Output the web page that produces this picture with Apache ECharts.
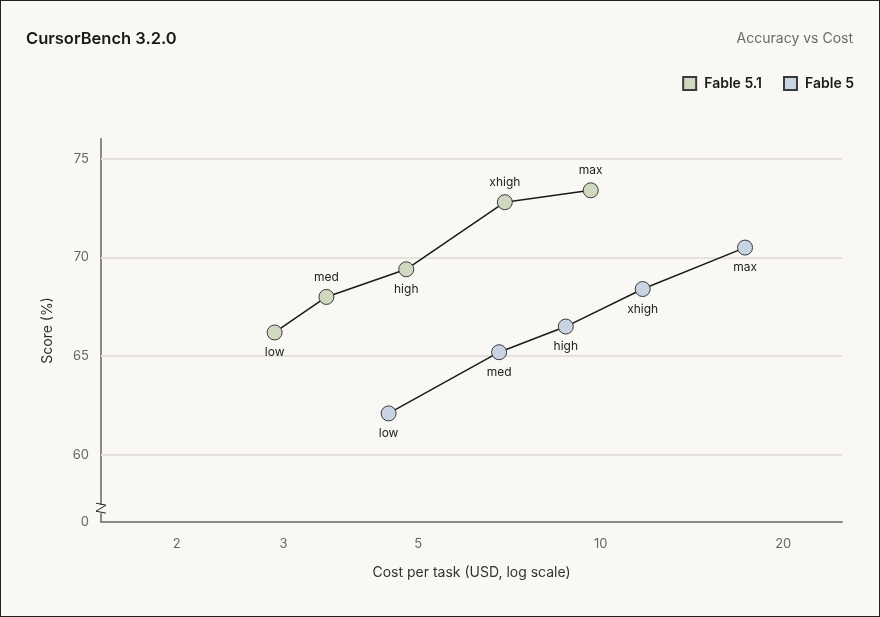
<!DOCTYPE html>
<html>
<head>
<meta charset="utf-8">
<script src="https://cdn.jsdelivr.net/npm/echarts@6/dist/echarts.min.js"></script>
<style>
html,body{margin:0;padding:0;background:#f9f8f4;}
#chart{width:880px;height:617px;box-sizing:border-box;border:1px solid #222;}
</style>
</head>
<body>
<div id="chart"></div>
<script>
const seriesNames = ['Fable 5.1', 'Fable 5'];
const effortLevels = ['low', 'med', 'high', 'xhigh', 'max'];
const fable51Cost = [2.90, 3.53, 4.78, 6.95, 9.63];
const fable51Score = [66.2, 68.0, 69.4, 72.8, 73.4];
const fable51LabelPos = ['bottom', 'top', 'bottom', 'top', 'top'];
const fable5Cost = [4.47, 6.80, 8.76, 11.73, 17.3];
const fable5Score = [62.1, 65.2, 66.5, 68.4, 70.5];
const fable5LabelPos = ['bottom', 'bottom', 'bottom', 'bottom', 'bottom'];
const xTickValues = [2, 3, 5, 10, 20];
const yTickValues = [0, 60, 65, 70, 75];
const yGridValues = [60, 65, 70, 75];

const FONT = 'Inter, "Noto Sans", sans-serif';

function buildData(costs, scores, names, positions) {
  return costs.map((c, i) => ({
    value: [c, scores[i]],
    name: names[i],
    label: { position: positions[i] }
  }));
}

const chart = echarts.init(document.getElementById('chart'));
const option = {
  backgroundColor: '#f9f8f4',
  animation: false,
  textStyle: { fontFamily: FONT },
  title: [
    { text: 'CursorBench 3.2.0', left: 25, top: 30, padding: 0,
      textStyle: { fontFamily: FONT, fontSize: 16.5, fontWeight: 600, color: '#1a1a1a' } },
    { text: 'Accuracy vs Cost', right: 26, top: 31, padding: 0,
      textStyle: { fontFamily: FONT, fontSize: 14, fontWeight: 400, color: '#6b6b6b' } }
  ],
  legend: {
    right: 25, top: 75, padding: 0,
    icon: 'rect', itemWidth: 13, itemHeight: 13, itemGap: 21,
    textStyle: { fontFamily: FONT, fontSize: 14, fontWeight: 600, color: '#1a1a1a', padding: [0, 0, 0, 3] },
    data: seriesNames
  },
  grid: { left: 100, right: 37, top: 138, bottom: 94 },
  xAxis: {
    type: 'log', logBase: 10, min: 1.5, max: 25,
    name: 'Cost per task (USD, log scale)', nameLocation: 'middle', nameGap: 44,
    nameTextStyle: { fontFamily: FONT, fontSize: 14, color: '#333' },
    axisLine: { show: true, lineStyle: { color: '#8a8886', width: 2 } },
    axisTick: { show: false },
    splitLine: { show: false },
    axisLabel: { customValues: xTickValues, margin: 16, fontSize: 13, color: '#666', fontFamily: FONT,
      formatter: v => String(Math.round(v)) }
  },
  yAxis: {
    type: 'value', min: 0, max: 76, interval: 5,
    breaks: [{ start: 0.4, end: 57.5, gap: 0.5 }],
    breakArea: { show: false, itemStyle: { color: 'transparent', borderColor: 'transparent', opacity: 0 } },
    name: 'Score (%)', nameLocation: 'middle', nameGap: 46,
    nameTextStyle: { fontFamily: FONT, fontSize: 14, color: '#333' },
    axisLine: { show: true, lineStyle: { color: '#8a8886', width: 2 } },
    axisTick: { show: false },
    splitLine: { show: false },
    axisLabel: { customValues: yTickValues, margin: 12, fontSize: 13, color: '#666', fontFamily: FONT }
  },
  series: [
    {
      name: seriesNames[0], type: 'line',
      data: buildData(fable51Cost, fable51Score, effortLevels, fable51LabelPos),
      symbol: 'circle', symbolSize: 15,
      lineStyle: { color: '#1a1a1a', width: 1.5 },
      itemStyle: { color: '#d0d8c2', borderColor: '#3a3a3a', borderWidth: 1 },
      label: { show: true, formatter: p => p.name, distance: 6, fontSize: 12, color: '#222', fontFamily: FONT },
      markLine: {
        silent: true, symbol: 'none', z: 1,
        label: { show: false },
        lineStyle: { color: '#e5e2da', width: 2, type: 'solid' },
        data: yGridValues.map(v => ({ yAxis: v }))
      },
      z: 3
    },
    {
      name: seriesNames[1], type: 'line',
      data: buildData(fable5Cost, fable5Score, effortLevels, fable5LabelPos),
      symbol: 'circle', symbolSize: 15,
      lineStyle: { color: '#1a1a1a', width: 1.5 },
      itemStyle: { color: '#c8d4e2', borderColor: '#3a3a3a', borderWidth: 1 },
      label: { show: true, formatter: p => p.name, distance: 6, fontSize: 12, color: '#222', fontFamily: FONT },
      z: 3
    }
  ]
};
chart.setOption(option);

// small zigzag break marker on the y-axis line
const pTop = chart.convertToPixel({ gridIndex: 0 }, [1.5, 57.5]);
const pBot = chart.convertToPixel({ gridIndex: 0 }, [1.5, 0.4]);
const cx = pTop[0], cy = (pTop[1] + pBot[1]) / 2;
chart.setOption({
  graphic: [{
    type: 'polyline', z: 100,
    shape: { points: [[cx - 5, cy - 6], [cx + 5, cy - 4], [cx - 5, cy + 2], [cx + 5, cy + 4]] },
    style: { stroke: '#222', lineWidth: 1, fill: null }
  }]
});
</script>
</body>
</html>
